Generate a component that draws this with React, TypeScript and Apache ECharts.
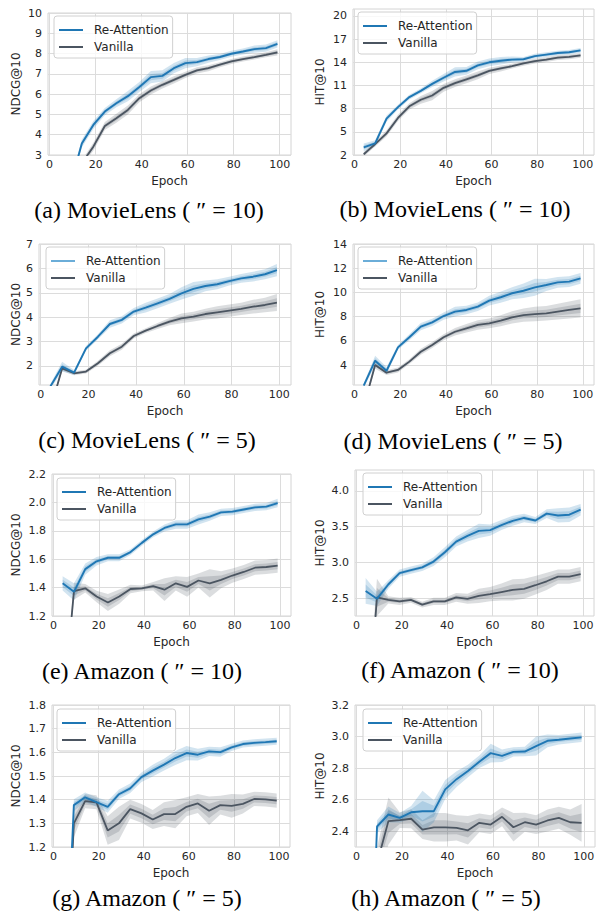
import React, { useEffect, useRef } from "react";
import * as echarts from "echarts";

// Training epochs at which each model was evaluated
const epochs = [4, 9, 14, 19, 24, 29, 34, 39, 44, 49, 54, 59, 64, 69, 74, 79, 84, 89, 94, 99];
const xTicks = [0, 20, 40, 60, 80, 100];

// (a) MovieLens, NDCG@10
const mlNdcg10Re = [1.0, 1.5, 3.57, 4.48, 5.14, 5.55, 5.9, 6.35, 6.84, 6.9, 7.28, 7.53, 7.58, 7.73, 7.83, 7.99, 8.1, 8.22, 8.27, 8.48];
const mlNdcg10ReErr = [0.2, 0.2, 0.2, 0.2, 0.18, 0.2, 0.25, 0.25, 0.3, 0.28, 0.25, 0.25, 0.2, 0.18, 0.15, 0.15, 0.15, 0.18, 0.18, 0.18];
const mlNdcg10Va = [1.5, 2.0, 2.59, 3.41, 4.43, 4.81, 5.22, 5.8, 6.18, 6.46, 6.7, 6.95, 7.17, 7.28, 7.45, 7.61, 7.73, 7.83, 7.94, 8.06];
const mlNdcg10VaErr = [0.15, 0.15, 0.15, 0.2, 0.2, 0.22, 0.22, 0.2, 0.2, 0.18, 0.18, 0.15, 0.15, 0.15, 0.12, 0.12, 0.12, 0.12, 0.12, 0.15];
const mlNdcg10Ticks = [3, 4, 5, 6, 7, 8, 9, 10];

// (b) MovieLens, HIT@10
const mlHit10Re = [3.0, 3.5, 6.7, 8.2, 9.5, 10.3, 11.2, 12.0, 12.75, 12.9, 13.6, 14.0, 14.2, 14.35, 14.4, 14.8, 15.0, 15.2, 15.3, 15.55];
const mlHit10ReErr = [0.5, 0.4, 0.4, 0.3, 0.3, 0.3, 0.4, 0.5, 0.6, 0.5, 0.5, 0.5, 0.5, 0.4, 0.3, 0.3, 0.3, 0.3, 0.3, 0.3];
const mlHit10Va = [2.1, 3.4, 4.8, 6.8, 8.3, 9.15, 9.7, 10.7, 11.3, 11.8, 12.3, 12.9, 13.2, 13.5, 13.85, 14.15, 14.35, 14.6, 14.7, 14.9];
const mlHit10VaErr = [0.3, 0.3, 0.4, 0.4, 0.4, 0.5, 0.6, 0.5, 0.5, 0.5, 0.5, 0.4, 0.4, 0.3, 0.3, 0.3, 0.3, 0.3, 0.3, 0.3];
const mlHit10Ticks = [2, 5, 8, 11, 14, 17, 20];

// (c) MovieLens, NDCG@10
const mlNdcg5Re = [1.15, 1.97, 1.73, 2.72, 3.2, 3.72, 3.89, 4.23, 4.39, 4.57, 4.75, 4.98, 5.16, 5.28, 5.35, 5.48, 5.59, 5.66, 5.76, 5.93];
const mlNdcg5ReErr = [0.1, 0.2, 0.1, 0.1, 0.1, 0.15, 0.15, 0.15, 0.2, 0.2, 0.2, 0.25, 0.28, 0.22, 0.2, 0.18, 0.18, 0.2, 0.2, 0.25];
const mlNdcg5Va = [0.2, 1.9, 1.7, 1.77, 2.11, 2.52, 2.79, 3.23, 3.45, 3.64, 3.82, 3.95, 4.02, 4.13, 4.2, 4.27, 4.34, 4.43, 4.5, 4.6];
const mlNdcg5VaErr = [0.1, 0.1, 0.08, 0.08, 0.1, 0.12, 0.12, 0.1, 0.1, 0.12, 0.15, 0.2, 0.2, 0.22, 0.25, 0.25, 0.25, 0.28, 0.3, 0.35];
const mlNdcg5Ticks = [2, 3, 4, 5, 6, 7];

// (d) MovieLens, HIT@10
const mlHit5Re = [2.3, 4.36, 3.53, 5.46, 6.29, 7.17, 7.53, 8.05, 8.41, 8.55, 8.82, 9.32, 9.6, 9.93, 10.14, 10.42, 10.61, 10.83, 10.89, 11.16];
const mlHit5ReErr = [0.2, 0.4, 0.3, 0.2, 0.25, 0.3, 0.3, 0.3, 0.4, 0.35, 0.35, 0.4, 0.45, 0.5, 0.6, 0.7, 0.5, 0.45, 0.45, 0.45];
const mlHit5Va = [0.56, 4.0, 3.37, 3.59, 4.28, 5.1, 5.65, 6.29, 6.75, 7.03, 7.31, 7.44, 7.66, 7.94, 8.13, 8.21, 8.27, 8.41, 8.55, 8.68];
const mlHit5VaErr = [0.2, 0.3, 0.2, 0.2, 0.2, 0.25, 0.25, 0.25, 0.3, 0.35, 0.4, 0.4, 0.45, 0.5, 0.55, 0.6, 0.6, 0.65, 0.7, 0.75];
const mlHit5Ticks = [4, 6, 8, 10, 12, 14];

// (e) Amazon, NDCG@10
const amNdcg10Re = [1.43, 1.37, 1.53, 1.585, 1.61, 1.61, 1.65, 1.715, 1.775, 1.82, 1.845, 1.845, 1.88, 1.9, 1.93, 1.935, 1.95, 1.965, 1.97, 1.995];
const amNdcg10ReErr = [0.05, 0.06, 0.04, 0.03, 0.025, 0.025, 0.02, 0.02, 0.02, 0.025, 0.03, 0.03, 0.035, 0.03, 0.025, 0.025, 0.025, 0.025, 0.025, 0.03];
const amNdcg10Va = [0.5, 1.375, 1.395, 1.337, 1.295, 1.337, 1.39, 1.395, 1.41, 1.385, 1.43, 1.405, 1.45, 1.43, 1.455, 1.485, 1.51, 1.54, 1.545, 1.555];
const amNdcg10VaErr = [0.05, 0.06, 0.03, 0.04, 0.06, 0.05, 0.03, 0.02, 0.03, 0.08, 0.05, 0.07, 0.05, 0.1, 0.06, 0.05, 0.05, 0.05, 0.05, 0.05];
const amNdcg10Ticks = [1.2, 1.4, 1.6, 1.8, 2.0, 2.2];

// (f) Amazon, HIT@10
const amHit10Re = [2.6, 2.49, 2.69, 2.85, 2.89, 2.93, 3.01, 3.14, 3.29, 3.37, 3.44, 3.45, 3.52, 3.58, 3.62, 3.585, 3.68, 3.655, 3.665, 3.735];
const amHit10ReErr = [0.18, 0.1, 0.06, 0.05, 0.05, 0.05, 0.06, 0.07, 0.07, 0.08, 0.1, 0.08, 0.07, 0.07, 0.06, 0.05, 0.06, 0.1, 0.1, 0.08];
const amHit10Va = [0.4, 2.51, 2.475, 2.455, 2.475, 2.41, 2.455, 2.455, 2.51, 2.49, 2.53, 2.555, 2.585, 2.615, 2.63, 2.68, 2.735, 2.8, 2.8, 2.835];
const amHit10VaErr = [0.3, 0.26, 0.05, 0.05, 0.04, 0.04, 0.05, 0.05, 0.06, 0.07, 0.1, 0.1, 0.12, 0.15, 0.14, 0.13, 0.12, 0.1, 0.1, 0.1];
const amHit10Ticks = [2.5, 3.0, 3.5, 4.0];

// (g) Amazon, NDCG@10
const amNdcg5Re = [0.3, 1.377, 1.41, 1.39, 1.37, 1.423, 1.448, 1.495, 1.523, 1.548, 1.576, 1.597, 1.59, 1.604, 1.601, 1.621, 1.635, 1.64, 1.643, 1.647];
const amNdcg5ReErr = [0.02, 0.025, 0.02, 0.02, 0.025, 0.02, 0.02, 0.02, 0.025, 0.025, 0.03, 0.03, 0.025, 0.02, 0.02, 0.015, 0.015, 0.015, 0.015, 0.015];
const amNdcg5Va = [0.3, 1.3, 1.394, 1.389, 1.27, 1.3, 1.36, 1.342, 1.316, 1.339, 1.339, 1.37, 1.384, 1.353, 1.377, 1.374, 1.382, 1.403, 1.401, 1.396];
const amNdcg5VaErr = [0.03, 0.06, 0.03, 0.03, 0.06, 0.07, 0.04, 0.04, 0.04, 0.05, 0.06, 0.04, 0.04, 0.06, 0.04, 0.05, 0.04, 0.03, 0.03, 0.03];
const amNdcg5Ticks = [1.2, 1.3, 1.4, 1.5, 1.6, 1.7, 1.8];

// (h) Amazon, HIT@10
const amHit5Re = [0.5, 2.43, 2.506, 2.485, 2.52, 2.527, 2.527, 2.665, 2.73, 2.782, 2.84, 2.895, 2.878, 2.903, 2.905, 2.94, 2.973, 2.98, 2.988, 2.995];
const amHit5ReErr = [0.05, 0.04, 0.05, 0.03, 0.04, 0.13, 0.07, 0.06, 0.05, 0.04, 0.04, 0.06, 0.04, 0.03, 0.03, 0.06, 0.04, 0.03, 0.03, 0.03];
const amHit5Va = [1.5, 2.197, 2.464, 2.47, 2.479, 2.41, 2.425, 2.425, 2.421, 2.406, 2.453, 2.442, 2.491, 2.425, 2.457, 2.442, 2.468, 2.485, 2.457, 2.453];
const amHit5VaErr = [0.05, 0.1, 0.15, 0.05, 0.06, 0.06, 0.09, 0.09, 0.08, 0.09, 0.06, 0.06, 0.06, 0.09, 0.06, 0.06, 0.07, 0.07, 0.08, 0.12];
const amHit5Ticks = [2.4, 2.6, 2.8, 3.0, 3.2];

const captions = [
  "(a) MovieLens ( \u2033 = 10)",
  "(b) MovieLens ( \u2033 = 10)",
  "(c) MovieLens ( \u2033 = 5)",
  "(d) MovieLens ( \u2033 = 5)",
  "(e) Amazon ( \u2033 = 10)",
  "(f) Amazon ( \u2033 = 10)",
  "(g) Amazon ( \u2033 = 5)",
  "(h) Amazon ( \u2033 = 5)",
];

const SANS = "DejaVu Sans";
const SERIF = "Liberation Serif";
const TEXT = "#262626";
const BLUE = "#1f77b4";
const GREY = "#4b5561";
const BLUE_BAND = "rgba(31,119,180,0.2)";
const GREY_BAND = "rgba(75,85,97,0.2)";

type Panel = {
  re: number[]; reErr: number[]; va: number[]; vaErr: number[];
  yName: string; yMin: number; yMax: number; yTicks: number[]; digits: number;
  grid: [number, number, number, number]; // left, top, width, height
  legend: [number, number];
  yNameGap: number;
  cap: [number, number];
  lightLegend?: boolean;
};

const panels: Panel[] = [
  { re: mlNdcg10Re, reErr: mlNdcg10ReErr, va: mlNdcg10Va, vaErr: mlNdcg10VaErr, yName: "NDCG@10", yMin: 3, yMax: 10, yTicks: mlNdcg10Ticks, digits: 0,
    grid: [48, 13, 243, 142], legend: [54, 16], yNameGap: 26, cap: [149, 210] },
  { re: mlHit10Re, reErr: mlHit10ReErr, va: mlHit10Va, vaErr: mlHit10VaErr, yName: "HIT@10", yMin: 2, yMax: 20.9, yTicks: mlHit10Ticks, digits: 0,
    grid: [353, 9, 241, 146], legend: [358, 12], yNameGap: 27, cap: [455, 209] },
  { re: mlNdcg5Re, reErr: mlNdcg5ReErr, va: mlNdcg5Va, vaErr: mlNdcg5VaErr, yName: "NDCG@10", yMin: 1.22, yMax: 7, yTicks: mlNdcg5Ticks, digits: 0,
    grid: [39, 244, 252, 141], legend: [46, 247], yNameGap: 17, cap: [147, 440], lightLegend: true },
  { re: mlHit5Re, reErr: mlHit5ReErr, va: mlHit5Va, vaErr: mlHit5VaErr, yName: "HIT@10", yMin: 2.35, yMax: 14, yTicks: mlHit5Ticks, digits: 0,
    grid: [353, 244, 241, 141], legend: [358, 247], yNameGap: 27, cap: [453, 441], lightLegend: true },
  { re: amNdcg10Re, reErr: amNdcg10ReErr, va: amNdcg10Va, vaErr: amNdcg10VaErr, yName: "NDCG@10", yMin: 1.2, yMax: 2.2, yTicks: amNdcg10Ticks, digits: 1,
    grid: [52, 474, 239, 142], legend: [57, 478], yNameGap: 30, cap: [142, 671] },
  { re: amHit10Re, reErr: amHit10ReErr, va: amHit10Va, vaErr: amHit10VaErr, yName: "HIT@10", yMin: 2.25, yMax: 4.29, yTicks: amHit10Ticks, digits: 1,
    grid: [355, 470, 239, 146], legend: [363, 473], yNameGap: 29, cap: [460, 670] },
  { re: amNdcg5Re, reErr: amNdcg5ReErr, va: amNdcg5Va, vaErr: amNdcg5VaErr, yName: "NDCG@10", yMin: 1.2, yMax: 1.8, yTicks: amNdcg5Ticks, digits: 1,
    grid: [52, 705, 238, 142], legend: [57, 709], yNameGap: 30, cap: [147, 898] },
  { re: amHit5Re, reErr: amHit5ReErr, va: amHit5Va, vaErr: amHit5VaErr, yName: "HIT@10", yMin: 2.3, yMax: 3.2, yTicks: amHit5Ticks, digits: 1,
    grid: [355, 705, 240, 142], legend: [363, 709], yNameGap: 29, cap: [446, 898] },
];

// Shaded spread around a mean curve, drawn as one clipped polygon per band
function band(gi: number, mid: number[], err: number[], k: number, fill: string, z: number) {
  const hi = mid.map((m, i) => m + err[i] * k);
  const lo = mid.map((m, i) => m - err[i] * k);
  return {
    type: "custom",
    xAxisIndex: gi,
    yAxisIndex: gi,
    clip: true,
    silent: true,
    z,
    data: epochs.map((x, i) => [x, lo[i], hi[i]]),
    encode: { x: 0, y: [1, 2] },
    renderItem: (params: any, api: any) => {
      if (params.dataIndex !== 0) return null;
      const upper = epochs.map((x, i) => api.coord([x, hi[i]]));
      const lower = epochs.map((x, i) => api.coord([x, lo[i]])).reverse();
      return { type: "polygon", shape: { points: upper.concat(lower) }, style: { fill } };
    },
  };
}

function buildOption() {
  const grid: any[] = [];
  const xAxis: any[] = [];
  const yAxis: any[] = [];
  const legend: any[] = [];
  const series: any[] = [];
  const graphic: any[] = [];

  panels.forEach((p, gi) => {
    grid.push({
      left: p.grid[0], top: p.grid[1], width: p.grid[2], height: p.grid[3],
      show: true, borderColor: "#d4d4d4", borderWidth: 1, backgroundColor: "transparent",
    });
    xAxis.push({
      type: "value", gridIndex: gi, min: -0.7, max: 104.9,
      name: "Epoch", nameLocation: "middle", nameGap: 20,
      nameTextStyle: { fontFamily: SANS, fontSize: 12, color: TEXT },
      axisLine: { show: false },
      axisTick: { show: false, customValues: xTicks },
      axisLabel: { customValues: xTicks, margin: 4, fontFamily: SANS, fontSize: 11, color: TEXT },
      splitLine: { show: true, lineStyle: { color: "#dcdcdc", width: 1 } },
    });
    yAxis.push({
      type: "value", gridIndex: gi, min: p.yMin, max: p.yMax,
      name: p.yName, nameLocation: "middle", nameGap: p.yNameGap,
      nameTextStyle: { fontFamily: SANS, fontSize: 12, color: TEXT },
      axisLine: { show: false },
      axisTick: { show: false, customValues: p.yTicks },
      axisLabel: {
        customValues: p.yTicks, margin: 6, fontFamily: SANS, fontSize: 11, color: TEXT,
        formatter: (v: number) => v.toFixed(p.digits),
      },
      splitLine: { show: true, lineStyle: { color: "#dcdcdc", width: 1 } },
    });
    legend.push({
      left: p.legend[0], top: p.legend[1], orient: "vertical", selectedMode: false,
      icon: "rect",
      data: [
        p.lightLegend
          ? { name: "Re-Attention", itemStyle: { color: "#6badd8" } }
          : { name: "Re-Attention" },
        { name: "Vanilla" },
      ],
      itemWidth: 24, itemHeight: 2, itemGap: 5, padding: [8, 4, 5, 5],
      backgroundColor: "rgba(255,255,255,0.8)", borderColor: "#d0d0d0", borderWidth: 1, borderRadius: 3,
      textStyle: { fontFamily: SANS, fontSize: 12, color: TEXT, padding: [0, 0, 0, 6] },
    });

    series.push(band(gi, p.va, p.vaErr, 1, GREY_BAND, 1));
    series.push(band(gi, p.va, p.vaErr, 0.5, GREY_BAND, 1));
    series.push(band(gi, p.re, p.reErr, 1, BLUE_BAND, 1));
    series.push(band(gi, p.re, p.reErr, 0.5, BLUE_BAND, 1));
    series.push({
      type: "line", name: "Vanilla", xAxisIndex: gi, yAxisIndex: gi, clip: true, z: 3,
      symbol: "none", data: epochs.map((x, i) => [x, p.va[i]]),
      lineStyle: { color: GREY, width: 1.8 }, itemStyle: { color: GREY },
    });
    series.push({
      type: "line", name: "Re-Attention", xAxisIndex: gi, yAxisIndex: gi, clip: true, z: 4,
      symbol: "none", data: epochs.map((x, i) => [x, p.re[i]]),
      lineStyle: { color: BLUE, width: 1.9 }, itemStyle: { color: BLUE },
    });

    graphic.push({
      type: "text", x: p.cap[0], y: p.cap[1], silent: true,
      style: {
        text: captions[gi], fontFamily: SERIF, fontSize: 24, fill: "#000",
        align: "center", verticalAlign: "middle",
      },
    });
  });

  return { animation: false, backgroundColor: "#ffffff", grid, xAxis, yAxis, legend, series, graphic };
}

export default function App() {
  const ref = useRef<HTMLDivElement>(null);
  useEffect(() => {
    if (!ref.current) return;
    const chart = echarts.init(ref.current, undefined, { renderer: "svg", width: 599, height: 913 });
    chart.setOption(buildOption() as any);
    return () => chart.dispose();
  }, []);
  return (
    <div
      ref={ref}
      style={{ position: "fixed", left: 0, top: 0, width: 599, height: 913, background: "#fff" }}
    />
  );
}
